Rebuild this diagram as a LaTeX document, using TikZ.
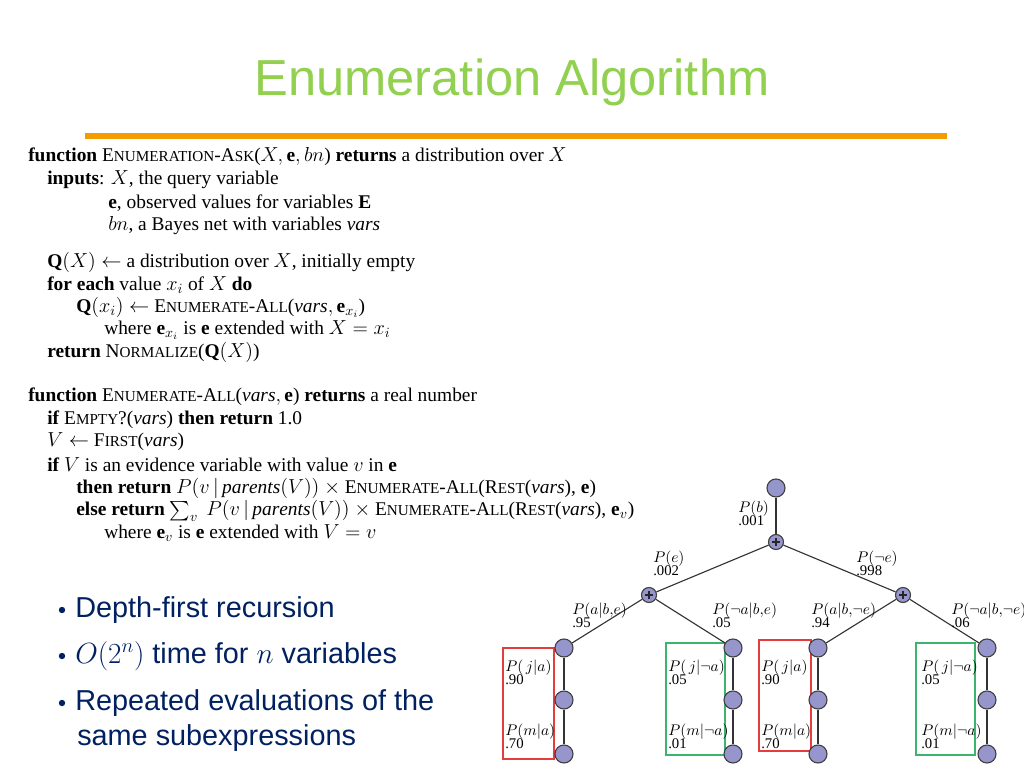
\documentclass[tikz,border=0pt]{standalone}
\usepackage{fontspec}
\setmainfont{Liberation Serif}
\newfontfamily\slidefont{Liberation Sans}
\usepackage{amsmath}
\usepackage{amssymb}
\usetikzlibrary{backgrounds}
\definecolor{titlegreen}{RGB}{146,208,80}
\definecolor{barorange}{RGB}{242,156,0}
\definecolor{bulletblue}{RGB}{0,32,96}
\definecolor{dotfill}{RGB}{150,150,205}
\definecolor{boxred}{RGB}{230,60,60}
\definecolor{boxgreen}{RGB}{60,180,110}
\tikzstyle{algo} = [anchor=west,inner sep=0pt,font=\fontsize{13.8}{14}\selectfont]
\tikzstyle{dot} = [circle,draw=black!75,fill=dotfill,minimum size=18*0.025cm,inner sep=0pt,thick]
\tikzstyle{plus} = [circle,draw=black!75,fill=dotfill,minimum size=15*0.025cm,inner sep=0pt,thick]
\tikzstyle{edge} = [thick,black!80]
\tikzstyle{lbl} = [align=left,inner sep=0pt,font=\fontsize{10.5}{11}\selectfont]
\tikzstyle{bullet} = [anchor=west,inner sep=0pt,text=bulletblue,font=\slidefont\fontsize{20.5}{22}\selectfont]
\newcommand{\SC}[1]{{\fontsize{10.8}{12}\selectfont\MakeUppercase{#1}}}
\newcommand{\plussign}{\tikz[x=1cm,y=1cm]\draw[line width=1.6pt,black!85] (-0.1,0) -- (0.1,0) (0,-0.1) -- (0,0.1);}

\begin{document}
\begin{tikzpicture}[x=0.025cm,y=-0.025cm]
		\useasboundingbox (0,0) rectangle (1024,768);
		\node (title) at (512,82) {\slidefont\fontsize{36}{40}\selectfont\color{titlegreen}Enumeration Algorithm};
		\draw[barorange,line width=4pt] (85,136) -- (947,136);

		% algorithm text
		\node[algo] (a1) at (28,157) {\textbf{function} E\SC{numeration}-A\SC{sk}($X,\mathbf{e},bn$) \textbf{returns} a distribution over $X$};
		\node[algo] (a2) at (47,180) {\textbf{inputs}: $X$,\ the query variable};
		\node[algo] (a3) at (108,203) {$\mathbf{e}$, observed values for variables $\mathbf{E}$};
		\node[algo] (a4) at (108,226) {$bn$, a Bayes net with variables $\mathit{vars}$};
		\node[algo] (a5) at (47,262) {$\mathbf{Q}(X)\leftarrow$ a distribution over $X$, initially empty};
		\node[algo] (a6) at (47,285) {\textbf{for each} value $x_i$ of $X$ \textbf{do}};
		\node[algo] (a7) at (76,307) {$\mathbf{Q}(x_i)\leftarrow$ E\SC{numerate}-A\SC{ll}($\mathit{vars},\mathbf{e}_{x_i}$)};
		\node[algo] (a8) at (104,330) {where $\mathbf{e}_{x_i}$ is $\mathbf{e}$ extended with $X=x_i$};
		\node[algo] (a9) at (47,352) {\textbf{return} N\SC{ormalize}($\mathbf{Q}(X)$)};
		\node[algo] (b1) at (28,397) {\textbf{function} E\SC{numerate}-A\SC{ll}($\mathit{vars},\mathbf{e}$) \textbf{returns} a real number};
		\node[algo] (b2) at (47,420) {\textbf{if} E\SC{mpty}?($\mathit{vars}$) \textbf{then return} 1.0};
		\node[algo] (b3) at (47,442) {$V\leftarrow$ F\SC{irst}($\mathit{vars}$)};
		\node[algo] (b4) at (47,465) {\textbf{if} $V$ is an evidence variable with value $v$ in $\mathbf{e}$};
		\node[algo] (b5) at (76,488) {\textbf{then return} $P(v\,|\,\mathit{parents}(V))\ \times$ E\SC{numerate}-A\SC{ll}(R\SC{est}($\mathit{vars}$), $\mathbf{e}$)};
		\node[algo] (b6) at (76,511) {\textbf{else return} $\sum_v\ P(v\,|\,\mathit{parents}(V))\ \times$ E\SC{numerate}-A\SC{ll}(R\SC{est}($\mathit{vars}$), $\mathbf{e}_v$)};
		\node[algo] (b7) at (104,533) {where $\mathbf{e}_v$ is $\mathbf{e}$ extended with $V=v$};

		% bullets
		\foreach \y in {610,656,703}
			\fill[bulletblue] (62,\y) circle (3.2);
		\node[bullet] (c1) at (75,610) {Depth-first recursion};
		\node[bullet] (c2) at (75,656) {$O(2^n)$ time for $n$ variables};
		\node[bullet] (c3) at (75,703) {Repeated evaluations of the};
		\node[bullet] (c4) at (77,738) {same subexpressions};

		% boxes
		\draw[boxred,thick] (503,648) rectangle (554,759);
		\draw[boxgreen,thick] (666,643) rectangle (725,755);
		\draw[boxred,thick] (759,640) rectangle (811,751);
		\draw[boxgreen,thick] (916,643) rectangle (975,755);

		% tree
		\node[dot] (root) at (776,488) {};
		\node[plus] (pb) at (776,542) {\plussign};
		\node[plus] (pl) at (649,595) {\plussign};
		\node[plus] (pr) at (903,595) {\plussign};
		\foreach \x/\n in {564/1,733/2,818/3,987/4} {
			\node[dot] (t\n) at (\x,648) {};
			\node[dot] (m\n) at (\x,700) {};
			\node[dot] (u\n) at (\x,754) {};
			\draw[edge,line width=1.5pt] (t\n) -- (m\n) -- (u\n);
		}
		\draw[edge,line width=1.5pt] (root) -- (pb);
		\draw[edge] (pb) -- (pl);
		\draw[edge] (pb) -- (pr);
		\draw[edge] (pl) -- (t1);
		\draw[edge] (pl) -- (t2);
		\draw[edge] (pr) -- (t3);
		\draw[edge] (pr) -- (t4);

		\node[lbl,anchor=west] (lb) at (738,513) {$P(b)$\\[-2pt].001};
		\node[lbl,anchor=west] (le) at (653,563) {$P(e)$\\[-2pt].002};
		\node[lbl,anchor=west] (lne) at (856,563) {$P(\neg e)$\\[-2pt].998};
		\node[lbl,anchor=west] (l1) at (572,615) {$P(a|b{,}e)$\\[-2pt].95};
		\node[lbl,anchor=west] (l2) at (712,615) {$P(\neg a|b{,}e)$\\[-2pt].05};
		\node[lbl,anchor=west] (l3) at (811,615) {$P(a|b{,}\neg e)$\\[-2pt].94};
		\node[lbl,anchor=west] (l4) at (951,615) {$P(\neg a|b{,}\neg e)$\\[-2pt].06};
		\foreach \x/\s/\j/\m in {505/a/.90/.70,668/\neg a/.05/.01,761/a/.90/.70,921/\neg a/.05/.01} {
			\node[lbl,anchor=west] at (\x,672) {$P(\,j|\s)$\\[-2pt]\j};
			\node[lbl,anchor=west] at (\x,736) {$P(m|\s)$\\[-2pt]\m};
		}
	\end{tikzpicture}
\end{document}
